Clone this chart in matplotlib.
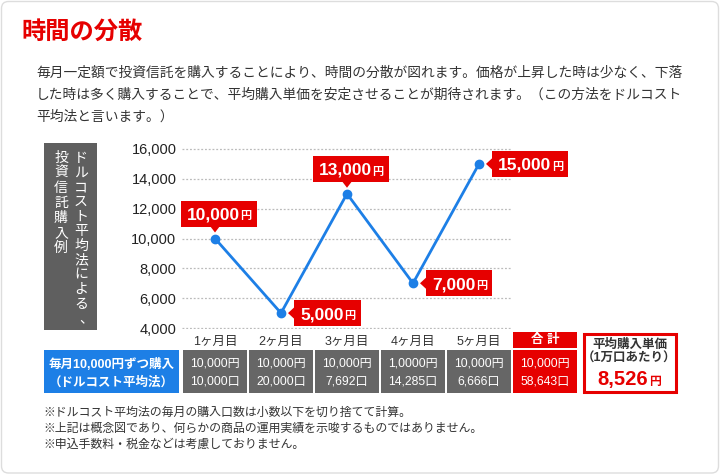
import matplotlib
matplotlib.use('Agg')
import matplotlib.pyplot as plt
from matplotlib.patches import Rectangle, Polygon, FancyBboxPatch

plt.rcParams['font.family'] = ['Liberation Sans', 'Noto Sans CJK JP', 'DejaVu Sans']

# data
months = ['1ヶ月目', '2ヶ月目', '3ヶ月目', '4ヶ月目', '5ヶ月目']
prices = [10000, 5000, 13000, 7000, 15000]
label_side = ['top', 'right', 'top', 'right', 'right']
yticks = [4000, 6000, 8000, 10000, 12000, 14000, 16000]
amounts = ['10,000円', '10,000円', '10,000円', '1,0000円', '10,000円']
units = ['10,000口', '20,000口', '7,692口', '14,285口', '6,666口']
total_amount = '10,000円'
total_units = '58,643口'
avg_price = '8,526'

RED = '#e60000'
BLUE = '#1d7fe6'
GRAY = '#666666'
TXT = '#333333'

W, H = 720, 475
fig = plt.figure(figsize=(W / 100, H / 100), dpi=100)

# line chart
pad = 0.75
ax = fig.add_axes([182 / W, 1 - (328 + pad) / H, 330 / W, (179 + 2 * pad) / H], zorder=2)
ax.set_xlim(-0.5, 4.5)
ax.set_ylim(4000 - pad * 12000 / 179, 16000 + pad * 12000 / 179)
ax.set_yticks(yticks)
ax.set_yticklabels([f'{v:,}' for v in yticks], fontsize=10.5, color='#222222')
ax.set_xticks(range(5))
ax.set_xticklabels(months, fontsize=9, color=TXT)
ax.tick_params(axis='y', length=0, pad=4)
ax.tick_params(axis='x', length=0, pad=5)
for s in ax.spines.values():
    s.set_visible(False)
ax.grid(axis='y', color='#bbbbbb', linestyle=(0, (1.5, 1.5)), linewidth=0.9)
ax.set_axisbelow(True)
ax.patch.set_alpha(0)
ax.plot(range(5), prices, color=BLUE, lw=2, marker='o', ms=6, zorder=3)

# overlay in pixel coords (y down)
ov = fig.add_axes([0, 0, 1, 1], zorder=5)
ov.set_xlim(0, W)
ov.set_ylim(H, 0)
ov.axis('off')


def box(x0, y0, x1, y1, color):
    ov.add_patch(Rectangle((x0, y0), x1 - x0, y1 - y0, fc=color, ec='none'))


def to_px(x, y):
    dx, dy = ax.transData.transform((x, y))
    return dx, H - dy


ov.add_patch(FancyBboxPatch((1.5, 1.5), W - 3, H - 3.5, boxstyle='round,pad=0,rounding_size=7',
                            fc='none', ec='#dddddd', lw=1, zorder=0))

ov.text(21, 32, '時間の分散', fontsize=17.5, fontweight='bold', color=RED, va='center')

para = ['毎月一定額で投資信託を購入することにより、時間の分散が図れます。価格が上昇した時は少なく、下落',
        'した時は多く購入することで、平均購入単価を安定させることが期待されます。（この方法をドルコスト',
        '平均法と言います。）']
for k, line in enumerate(para):
    ov.text(36, 73 + 22 * k, line, fontsize=9.9, color=TXT, va='center')

# vertical label
box(44, 143, 97, 330, '#5f5f5f')
col_r = 'ドルコスト平均法による、'
col_l = '投資信託購入例'
for k, ch in enumerate(col_r):
    dx, dy = (5, 0) if ch == '、' else (0, 0)
    ov.text(81 + dx, 158 + 14.6 * k + dy, ch, fontsize=10, color='white', ha='center', va='center')
for k, ch in enumerate(col_l):
    ov.text(61, 158 + 15 * k, ch, fontsize=10, color='white', ha='center', va='center')

# price callouts
r = fig.canvas.get_renderer()
for i, v in enumerate(prices):
    px, py = to_px(i, v)
    num = ov.text(0, 0, f'{v:,}', fontsize=12.5, fontweight='bold', color='white', va='baseline', zorder=6)
    yen = ov.text(0, 0, '円', fontsize=8, fontweight='bold', color='white', va='baseline', zorder=6)
    wn = num.get_window_extent(renderer=r).width
    wy = yen.get_window_extent(renderer=r).width
    bw, bh = wn + wy + 12, 26
    if label_side[i] == 'top':
        bottom = py - 12
        top = bottom - bh
        x0 = px + 4 - bw / 2
        tri = [(px - 5, bottom - 0.5), (px + 5, bottom - 0.5), (px, bottom + 6)]
    else:
        x0 = px + 13
        top = py - bh / 2
        tri = [(x0 + 0.5, py - 6), (x0 + 0.5, py + 6), (x0 - 6, py)]
    box(x0, top, x0 + bw, top + bh, RED)
    ov.add_patch(Polygon(tri, closed=True, fc=RED, ec='none'))
    base = top + bh / 2 + 6
    num.set_position((x0 + 6, base))
    yen.set_position((x0 + 6 + wn + 0.5, base))

# table row
box(44, 350, 179, 393, BLUE)
ov.text(111.5, 364, '毎月10,000円ずつ購入', fontsize=9, fontweight='bold', color='white', ha='center', va='center')
ov.text(111.5, 382, '（ドルコスト平均法）', fontsize=9, fontweight='bold', color='white', ha='center', va='center')

for i in range(5):
    cx, _ = to_px(i, 4000)
    box(cx - 32, 350, cx + 32, 393, GRAY)
    ov.text(cx, 364, amounts[i], fontsize=8.7, color='white', ha='center', va='center')
    ov.text(cx, 382, units[i], fontsize=8.7, color='white', ha='center', va='center')

cx, _ = to_px(5, 4000)
box(cx - 32, 332, cx + 32, 348, RED)
ov.text(cx, 340, '合 計', fontsize=9, fontweight='bold', color='white', ha='center', va='center')
box(cx - 32, 350, cx + 32, 393, RED)
ov.text(cx, 364, total_amount, fontsize=8.7, color='white', ha='center', va='center')
ov.text(cx, 382, total_units, fontsize=8.7, color='white', ha='center', va='center')

ov.add_patch(Rectangle((583.5, 333.5), 92.5, 58.5, fc='white', ec=RED, lw=2.2))
ov.text(629.5, 345, '平均購入単価', fontsize=9, fontweight='bold', color=TXT, ha='center', va='center')
ov.text(629.5, 359, '（1万口あたり）', fontsize=9, fontweight='bold', color=TXT, ha='center', va='center')
n = ov.text(0, 0, avg_price, fontsize=14.5, fontweight='bold', color=RED, va='baseline')
y_ = ov.text(0, 0, '円', fontsize=8.5, fontweight='bold', color=RED, va='baseline')
wn = n.get_window_extent(renderer=r).width
wy = y_.get_window_extent(renderer=r).width
x0 = 629.5 - (wn + wy + 1) / 2
n.set_position((x0, 385))
y_.set_position((x0 + wn + 1, 385))

notes = ['※ドルコスト平均法の毎月の購入口数は小数以下を切り捨てて計算。',
         '※上記は概念図であり、何らかの商品の運用実績を示唆するものではありません。',
         '※申込手数料・税金などは考慮しておりません。']
for k, line in enumerate(notes):
    ov.text(43, 413 + 16 * k, line, fontsize=8.6, color=TXT, va='center')

fig.savefig('out.png', dpi=100)
